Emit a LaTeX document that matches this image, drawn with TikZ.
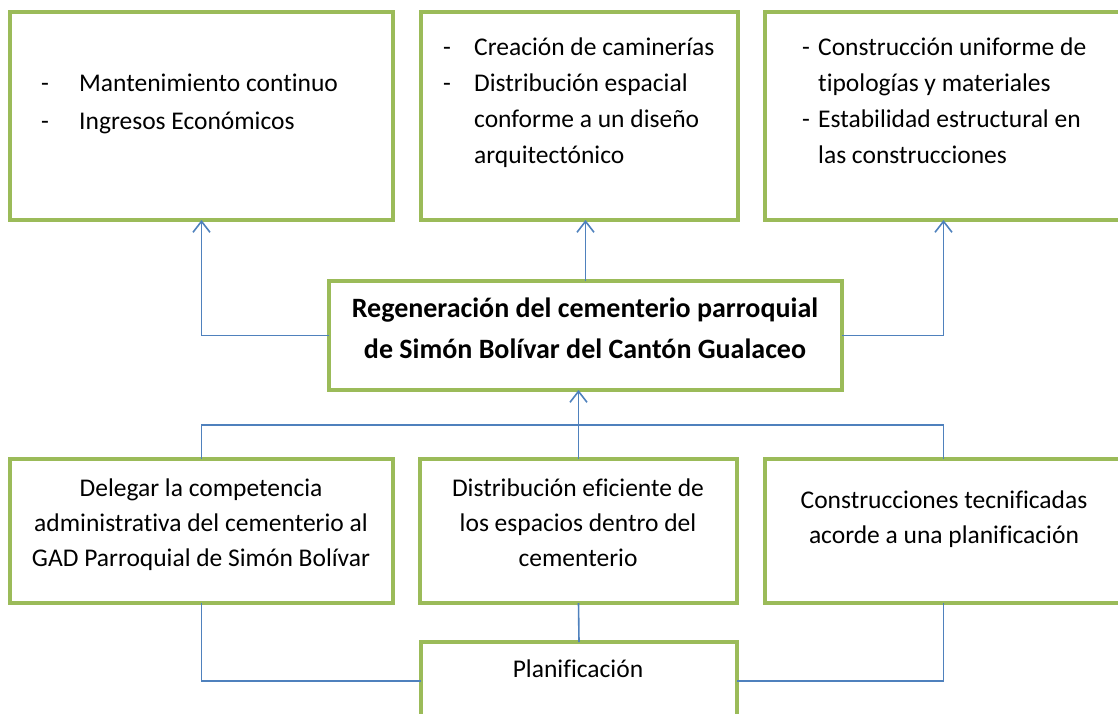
\documentclass[tikz,border=0pt]{standalone}
\usepackage{fontspec}
\setmainfont[Ligatures=NoCommon]{Carlito}
\usetikzlibrary{arrows.meta}

\definecolor{verdecaja}{HTML}{9BBB59}
\definecolor{azulenlace}{HTML}{4F81BD}

\tikzset{
  caja/.style={draw=verdecaja, line width=4.5pt, inner sep=0pt, outer sep=0pt},
  enlace/.style={draw=azulenlace, line width=1.6pt},
  flecha/.style={enlace, -{Straight Barb[length=11pt, width=17pt, line width=1.6pt]}},
  texto/.style={inner sep=0pt, anchor=base west, font=\fontsize{25.5}{36.3}\selectfont},
  textoc/.style={texto, anchor=base},
}

\begin{document}
\begin{tikzpicture}[x=1pt, y=-1pt]
  \useasboundingbox (0,0) rectangle (1118,713);
  \clip (0,0) rectangle (1118,713);

  % fila superior
  \node[caja, minimum width=383, minimum height=208] (mant) at (201.5,116) {};
  \node[caja, minimum width=317, minimum height=208] (dist) at (579.5,116) {};
  \node[caja, minimum width=357, minimum height=208] (cons) at (943.5,116) {};

  \node[texto, font=\fontsize{25.5}{38}\selectfont] (mantTxt) at (41,91) {%
    \begin{tabular}[t]{@{}p{38pt}@{}l@{}}
      - & Mantenimiento continuo\\
      - & Ingresos Económicos
    \end{tabular}};
  \node[texto] (distTxt) at (443,55) {%
    \begin{tabular}[t]{@{}p{31pt}@{}l@{}}
      - & Creación de caminerías\\
      - & Distribución espacial\\
        & conforme a un diseño\\
        & arquitectónico
    \end{tabular}};
  \node[texto] (consTxt) at (802,55) {%
    \begin{tabular}[t]{@{}p{16pt}@{}l@{}}
      - & Construcción uniforme de\\
        & tipologías y materiales\\
      - & Estabilidad estructural en\\
        & las construcciones
    \end{tabular}};

  % objetivo central
  \node[caja, minimum width=513, minimum height=109] (reg) at (585.5,335.5) {};
  \node[textoc, font=\fontsize{28}{41}\selectfont\bfseries] (regTxt) at (585,317) {%
    \begin{tabular}[t]{@{}c@{}}
      Regeneración del cementerio parroquial\\
      de Simón Bolívar del Cantón Gualaceo
    \end{tabular}};

  % fila inferior
  \node[caja, minimum width=383, minimum height=144] (dele) at (201.5,531) {};
  \node[caja, minimum width=317, minimum height=144] (efic) at (578.5,531) {};
  \node[caja, minimum width=357, minimum height=144] (tecn) at (943.5,531) {};

  \node[textoc, font=\fontsize{25.5}{35}\selectfont] (deleTxt) at (201,496) {%
    \begin{tabular}[t]{@{}c@{}}
      Delegar la competencia\\
      administrativa del cementerio al\\
      GAD Parroquial de Simón Bolívar
    \end{tabular}};
  \node[textoc, font=\fontsize{25.5}{35}\selectfont] (eficTxt) at (578,496) {%
    \begin{tabular}[t]{@{}c@{}}
      Distribución eficiente de\\
      los espacios dentro del\\
      cementerio
    \end{tabular}};
  \node[textoc, font=\fontsize{25.5}{35}\selectfont] (tecnTxt) at (944,508) {%
    \begin{tabular}[t]{@{}c@{}}
      Construcciones tecnificadas\\
      acorde a una planificación
    \end{tabular}};

  % base
  \node[caja, minimum width=316, minimum height=78] (plan) at (579,681) {};
  \node[textoc] (planTxt) at (578,677) {Planificación};

  % enlaces hacia arriba
  \draw[flecha] (reg.west) -| (mant.south);
  \draw[flecha] (reg.north) -- (reg.north |- dist.south);
  \draw[flecha] (reg.east) -| (cons.south);

  \coordinate (bus) at (0,425);
  \draw[enlace] (dele.north) |- (bus -| tecn.north) -- (tecn.north);
  \draw[flecha] (efic.north) -- (efic.north |- reg.south);

  % enlaces con la planificacion
  \draw[enlace] (dele.south) |- (plan.west);
  \draw[enlace] (efic.south) -- (plan.north);
  \draw[enlace] (tecn.south) |- (plan.east);
\end{tikzpicture}
\end{document}
